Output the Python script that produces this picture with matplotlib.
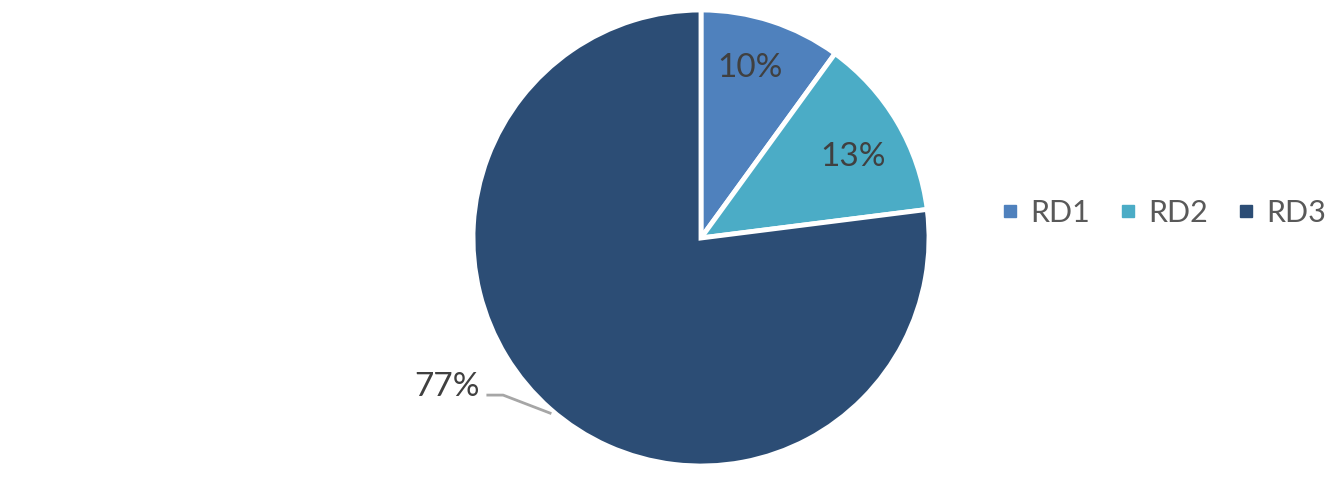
import matplotlib.pyplot as plt
from matplotlib.lines import Line2D

labels = ["RD1", "RD2", "RD3"]
shares = [10, 13, 77]
colors = ["#4F81BD", "#4BACC6", "#2C4D75"]
pct_text = ["10%", "13%", "77%"]

plt.rcParams['font.family'] = ['Lato', 'DejaVu Sans']

W, H = 1340, 478
cx, cy, r = 701, 238, 228
fig = plt.figure(figsize=(W / 100, H / 100), dpi=100)
ax = fig.add_axes([(cx - r) / W, (H - cy - r) / H, 2 * r / W, 2 * r / H])

wedges, _ = ax.pie(shares, colors=colors, startangle=90, counterclock=False,
                   radius=1, wedgeprops=dict(edgecolor="white", linewidth=3.5))
ax.set_xlim(-1, 1)
ax.set_ylim(-1, 1)
ax.axis("off")

# data labels
ax.text(0.215, 0.745, pct_text[0], ha="center", va="center", fontsize=24, color="#404040")
ax.text(0.667, 0.355, pct_text[1], ha="center", va="center", fontsize=24, color="#404040")
ax.text(-1.114, -0.655, pct_text[2], ha="center", va="center", fontsize=24, color="#404040",
        clip_on=False)
ax.plot([-0.935, -0.868, -0.662], [-0.689, -0.689, -0.768], color="#A6A6A6", lw=2,
        clip_on=False)

handles = [Line2D([], [], marker="s", linestyle="none", markersize=9,
                  markerfacecolor=c, markeredgecolor=c) for c in colors]
fig.legend(handles, labels, loc="center left", bbox_to_anchor=(1001 / W, 1 - 213 / H),
           ncol=3, frameon=False, fontsize=22, labelcolor="#595959",
           borderpad=0, borderaxespad=0,
           handlelength=0.6, handletextpad=0.36, columnspacing=0.95)

fig.savefig("out.png", dpi=100)
